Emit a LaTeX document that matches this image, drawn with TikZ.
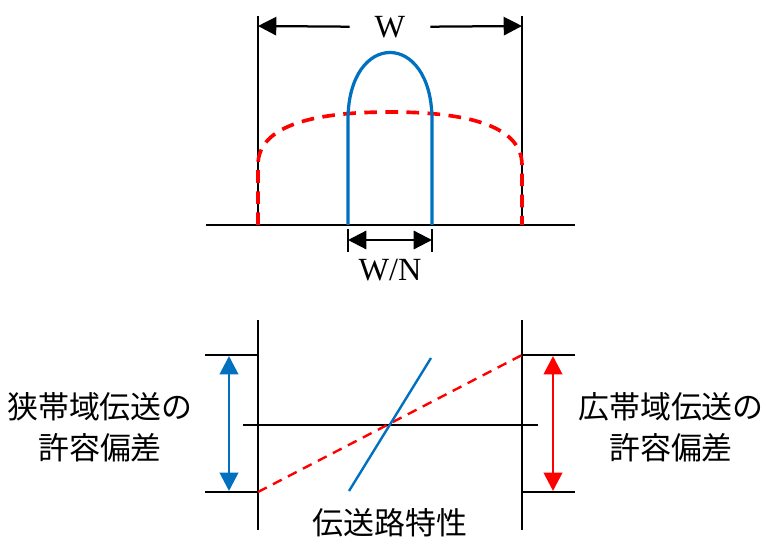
\documentclass[tikz,border=0pt]{standalone}
\usepackage{fontspec}
\setmainfont{Liberation Serif}
\newfontfamily\jpfont{Noto Sans CJK JP}
\usetikzlibrary{arrows.meta}
\definecolor{sigblue}{HTML}{0070C0}
\definecolor{sigred}{HTML}{FF0000}

\begin{document}
\begin{tikzpicture}[
  x=0.025cm, y=-0.025cm,
  every node/.style={font=\fontsize{23}{29}\selectfont, align=center},
  line/.style={draw, line width=1.6pt},
  dimline/.style={draw, line width=1.6pt, -{Triangle[length=13pt,width=13pt]}},
  dimboth/.style={draw, line width=1.6pt, {Triangle[length=13pt,width=13pt]}-{Triangle[length=13pt,width=13pt]}},
  narrow/.style={draw=sigblue, line width=2.3pt},
  wide/.style={draw=sigred, line width=2.6pt, dash pattern=on 9pt off 6pt},
  tolblue/.style={draw=sigblue, line width=2pt, {Triangle[length=13pt,width=13pt]}-{Triangle[length=13pt,width=13pt]}},
  tolred/.style={draw=sigred, line width=2pt, {Triangle[length=13pt,width=13pt]}-{Triangle[length=13pt,width=13pt]}}
]
\useasboundingbox (0,0) rectangle (772,545);

% Top: spectra
\coordinate (bandL) at (258,16);
\coordinate (bandLb) at (258,225);
\coordinate (bandR) at (522,16);
\coordinate (bandRb) at (522,225);
\coordinate (baseL) at (206,225);
\coordinate (baseR) at (575,225);

\draw[line] (bandL) -- (bandLb);
\draw[line] (bandR) -- (bandRb);
\draw[line] (baseL) -- (baseR);

% Width W
\node[inner xsep=0.62cm] (W) at (390,27) {W};
\coordinate (wtipL) at (258,26);
\coordinate (wtipR) at (522,26);
\draw[dimline] (W) -- (wtipL);
\draw[dimline] (W) -- (wtipR);

% Wideband spectrum (dashed)
\draw[wide] (bandLb) -- (258,165) .. controls (258,124) and (318,112) .. (390,112)
  .. controls (462,112) and (522,124) .. (522,165) -- (bandRb);

% Narrowband spectrum
\draw[narrow] (348,225) -- (348,120) .. controls (348,30) and (432,30) .. (432,120) -- (432,225);

% Width W/N
\coordinate (nL) at (348,229);
\coordinate (nLb) at (348,252);
\coordinate (nR) at (432,229);
\coordinate (nRb) at (432,252);
\coordinate (naL) at (348,240);
\coordinate (naR) at (432,240);
\draw[line] (nL) -- (nLb);
\draw[line] (nR) -- (nRb);
\draw[dimboth] (naL) -- (naR);
\node (WN) at (390,270) {W/N};

% Bottom: tolerance
\coordinate (tolL) at (258,320);
\coordinate (tolLb) at (258,530);
\coordinate (tolR) at (522,320);
\coordinate (tolRb) at (522,530);
\coordinate (midL) at (243,425);
\coordinate (midR) at (538,425);
\draw[line] (tolL) -- (tolLb);
\draw[line] (tolR) -- (tolRb);
\draw[line] (midL) -- (midR);

\coordinate (upL) at (205,355);
\coordinate (upLe) at (258,355);
\coordinate (loL) at (205,492);
\coordinate (loLe) at (258,492);
\coordinate (upR) at (522,355);
\coordinate (upRe) at (575,355);
\coordinate (loR) at (522,492);
\coordinate (loRe) at (575,492);
\draw[line] (upL) -- (upLe);
\draw[line] (loL) -- (loLe);
\draw[line] (upR) -- (upRe);
\draw[line] (loR) -- (loRe);

\coordinate (bluTop) at (229,356);
\coordinate (bluBot) at (229,491);
\coordinate (redTop) at (553,356);
\coordinate (redBot) at (553,491);
\draw[tolblue] (bluTop) -- (bluBot);
\draw[tolred] (redTop) -- (redBot);

% Channel characteristic
\draw[draw=sigred, line width=1.7pt, dash pattern=on 7pt off 5pt] (loLe) -- (upR);
\coordinate (chA) at (349,491);
\coordinate (chB) at (431,358);
\draw[draw=sigblue, line width=1.7pt] (chA) -- (chB);

% Labels
\node[font=\jpfont\fontsize{22}{29}\selectfont] (narrowTol) at (100,427) {狭帯域伝送の\\許容偏差};
\node[font=\jpfont\fontsize{22}{29}\selectfont] (wideTol) at (671,427) {広帯域伝送の\\許容偏差};
\node[font=\jpfont\fontsize{22}{29}\selectfont] (chan) at (390,523) {伝送路特性};

\end{tikzpicture}
\end{document}
